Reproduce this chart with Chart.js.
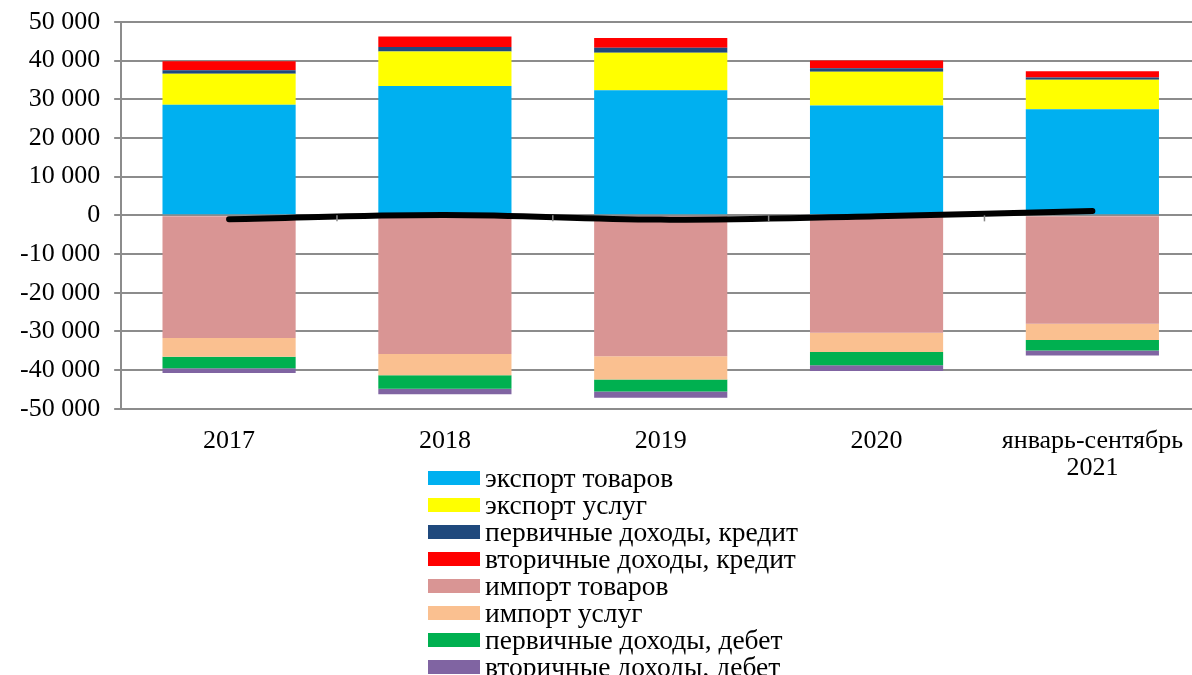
<!DOCTYPE html>
<html>
<head>
<meta charset="utf-8">
<script src="https://cdn.jsdelivr.net/npm/chart.js@4"></script>
<style>
  html, body { margin: 0; padding: 0; background: #fff; overflow: hidden; }
  #wrap { position: relative; width: 1202px; height: 501px; }
  #legend { position: absolute; left: 428px; top: 464px; font-family: "Liberation Serif", serif; font-size: 27.5px; color: #000; }
  .row { height: 27px; line-height: 27px; white-space: nowrap; }
  .box { display: inline-block; width: 52px; height: 14px; margin-right: 5px; vertical-align: 2px; }
</style>
</head>
<body>
<div id="wrap"><canvas id="chart"></canvas></div>
<div id="legend"></div>
<script>
// Categories
const years = ['2017', '2018', '2019', '2020', ['январь-сентябрь', '2021']];

// Credit (positive)
const exportGoods = [28600, 33400, 32300, 28400, 27400];
const exportServices = [8000, 8900, 9700, 8700, 7600];
const primaryCredit = [900, 1200, 1300, 900, 600];
const secondaryCredit = [2300, 2700, 2500, 2000, 1600];

// Debit (negative)
const importGoods = [-31700, -35800, -36400, -30300, -28000];
const importServices = [-4800, -5500, -6000, -5000, -4200];
const primaryDebit = [-3000, -3500, -3100, -3400, -2700];
const secondaryDebit = [-1200, -1400, -1600, -1500, -1300];

// Balance line
const balance = [-1000, 100, -1100, -200, 1100];

const fontFamily = '"Liberation Serif", "Times New Roman", serif';

function bar(label, data, color) {
    return { type: 'bar', label: label, data: data, backgroundColor: color, borderWidth: 0,
             stack: 'bop', order: 1, categoryPercentage: 1, barPercentage: 0.617 };
}

const datasets = [
    bar('экспорт товаров', exportGoods, '#00B0F0'),
    bar('экспорт услуг', exportServices, '#FFFF00'),
    bar('первичные доходы, кредит', primaryCredit, '#1F497D'),
    bar('вторичные доходы, кредит', secondaryCredit, '#FF0000'),
    bar('импорт товаров', importGoods, '#D99594'),
    bar('импорт услуг', importServices, '#FAC090'),
    bar('первичные доходы, дебет', primaryDebit, '#00B050'),
    bar('вторичные доходы, дебет', secondaryDebit, '#8064A2'),
    {
        type: 'line', label: 'сальдо', data: balance, stack: 'line', order: 0,
        borderColor: '#000', borderWidth: 6, tension: 0.4, pointRadius: 0,
        borderCapStyle: 'round', fill: false
    }
];

// small tick marks on zero line between categories
const zeroTicks = {
    id: 'zeroTicks',
    afterDatasetsDraw(chart) {
        const { ctx, scales: { x, y } } = chart;
        const y0 = y.getPixelForValue(0);
        ctx.save();
        ctx.strokeStyle = '#888';
        ctx.lineWidth = 1.5;
        for (let i = 1; i < years.length; i++) {
            const px = (x.getPixelForValue(i - 1) + x.getPixelForValue(i)) / 2;
            ctx.beginPath();
            ctx.moveTo(px, y0);
            ctx.lineTo(px, y0 + 6);
            ctx.stroke();
        }
        ctx.restore();
    }
};

const chart = new Chart(document.getElementById('chart'), {
    data: { labels: years, datasets: datasets },
    options: {
        responsive: true,
        maintainAspectRatio: false,
        animation: false,
        layout: { padding: { top: 8, right: 0, left: 6, bottom: 0 } },
        plugins: { legend: { display: false }, tooltip: { enabled: false } },
        scales: {
            x: {
                stacked: true,
                grid: { display: false, drawTicks: false },
                border: { display: false },
                ticks: { color: '#000', font: { family: fontFamily, size: 26, lineHeight: 1.04 }, padding: 19, maxRotation: 0, autoSkip: false }
            },
            y: {
                stacked: true,
                min: -50000, max: 50000,
                grid: { color: '#8c8c8c', lineWidth: 2, tickLength: 7 },
                border: { color: '#8c8c8c', width: 2 },
                ticks: {
                    stepSize: 10000, color: '#000', padding: 14,
                    font: { family: fontFamily, size: 26, lineHeight: 0.6 },
                    callback: v => String(v).replace(/\B(?=(\d{3})+(?!\d))/g, ' ')
                }
            }
        }
    },
    plugins: [zeroTicks]
});

// HTML legend built from bar datasets
const legendEl = document.getElementById('legend');
chart.data.datasets.filter(d => d.type === 'bar').forEach(d => {
    const row = document.createElement('div');
    row.className = 'row';
    const box = document.createElement('span');
    box.className = 'box';
    box.style.background = d.backgroundColor;
    row.appendChild(box);
    row.appendChild(document.createTextNode(d.label));
    legendEl.appendChild(row);
});
</script>
</body>
</html>
